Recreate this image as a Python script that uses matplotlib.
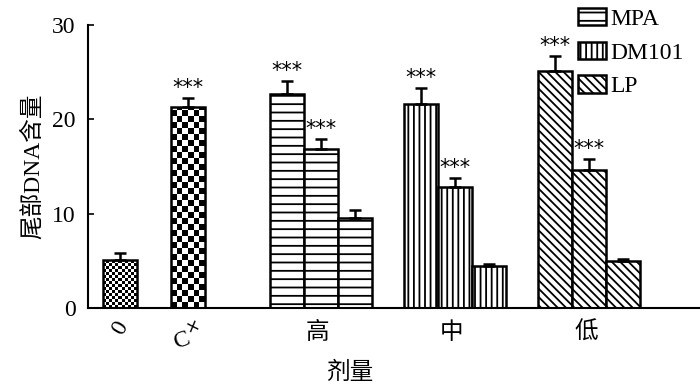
import numpy as np
import matplotlib.pyplot as plt
from matplotlib.patches import Patch

plt.rcParams['font.family'] = ['Liberation Serif', 'Noto Sans CJK SC']
plt.rcParams['hatch.linewidth'] = 1.3

# data
ctrl_labels = ["0", "C$^{\\times}$"]
ctrl_values = [5.1, 21.3]
ctrl_err = [0.7, 1.0]
ctrl_sig = ["", "***"]

groups = ["高", "中", "低"]
series = ["MPA", "DM101", "LP"]
group_values = [[22.7, 16.8, 9.5],
                [21.6, 12.8, 4.4],
                [25.1, 14.6, 5.0]]
group_err = [[1.4, 1.1, 0.9],
             [1.7, 1.0, 0.3],
             [1.6, 1.2, 0.2]]
group_sig = [["***", "***", ""],
             ["***", "***", ""],
             ["***", "***", ""]]
hatches = ["--", "|||", "\\\\\\\\"]

fig = plt.figure(figsize=(7, 3.84), dpi=100)
ax = fig.add_axes([0.126, 0.198, 0.874, 0.737])

ax.set_xlim(-0.94, 17.06)
ax.set_ylim(0, 30)

w = 1.0
lw = 1.8
ctrl_x = [0.0, 2.0]
group_x = [5.9, 9.85, 13.8]

# px per data unit, used for the checker cell size
px_x = 34.0
px_y = 9.45


def checker_bar(x, h, cell):
    bar = ax.bar(x, h, w, facecolor="white", edgecolor="none", zorder=1)[0]
    nx = max(1, int(round(w * px_x / cell)))
    ny = max(1, int(round(h * px_y / cell)))
    img = (np.add.outer(np.arange(ny), np.arange(nx)) % 2).astype(float)
    im = ax.imshow(img, cmap="gray", extent=(x - w / 2, x + w / 2, 0, ny * cell / px_y),
                   interpolation="nearest", aspect="auto", zorder=2, origin="lower")
    im.set_clip_path(bar)
    ax.bar(x, h, w, fill=False, edgecolor="black", linewidth=lw, zorder=3)


def stars(x, top, s):
    if s:
        ax.annotate(s, (x, top), xytext=(0, 0), textcoords="offset points",
                    ha="center", va="bottom", fontsize=15, family="DejaVu Sans")


checker_bar(ctrl_x[0], ctrl_values[0], 3.0)
checker_bar(ctrl_x[1], ctrl_values[1], 6.0)
ax.errorbar(ctrl_x, ctrl_values, yerr=[[0, 0], ctrl_err], fmt="none", ecolor="black",
            elinewidth=1.8, capsize=4.5, capthick=1.8, zorder=4)
for x, v, e, s in zip(ctrl_x, ctrl_values, ctrl_err, ctrl_sig):
    stars(x, v + e, s)

all_ticks = list(ctrl_x)
for gi, gx in enumerate(group_x):
    xs = [gx - w, gx, gx + w]
    all_ticks += xs
    ax.bar(xs, group_values[gi], w, facecolor="white", edgecolor="black",
           linewidth=lw, hatch=hatches[gi], zorder=2)
    ax.errorbar(xs, group_values[gi], yerr=[[0, 0, 0], group_err[gi]], fmt="none",
                ecolor="black", elinewidth=1.8, capsize=4.5, capthick=1.8, zorder=4)
    for x, v, e, s in zip(xs, group_values[gi], group_err[gi], group_sig[gi]):
        stars(x, v + e, s)

ax.spines["right"].set_visible(False)
ax.spines["top"].set_visible(False)
ax.spines["left"].set_linewidth(1.5)
ax.spines["bottom"].set_linewidth(1.5)

ax.set_yticks([0, 10, 20, 30])
ax.tick_params(axis="y", direction="in", length=4, width=1.2, labelsize=17, pad=9)
ax.set_xticks(all_ticks)
ax.set_xticklabels([""] * len(all_ticks))
ax.tick_params(axis="x", direction="in", length=4, width=1.2)

# x labels
ax.text(ctrl_x[0], -1.0, ctrl_labels[0], rotation=60, ha="center", va="top", fontsize=17)
ax.text(ctrl_x[1], -1.4, ctrl_labels[1], rotation=20, ha="center", va="top", fontsize=17)
for gx, g in zip(group_x, groups):
    ax.text(gx - 0.1, -1.5, g, ha="center", va="top", fontsize=17)

ax.set_ylabel("尾部DNA含量", fontsize=17, labelpad=6)
fig.text(0.5, 0.03, "剂量", ha="center", va="center", fontsize=17)

handles = [Patch(facecolor="white", edgecolor="black", linewidth=1.8, hatch=h) for h in hatches]
fig.legend(handles, series, loc="upper left", bbox_to_anchor=(0.822, 0.985),
           bbox_transform=fig.transFigure, frameon=False, fontsize=17,
           handlelength=1.2, handleheight=0.75, handletextpad=0.2,
           labelspacing=0.5, borderpad=0.1, borderaxespad=0)

fig.savefig("out.png", dpi=100)
